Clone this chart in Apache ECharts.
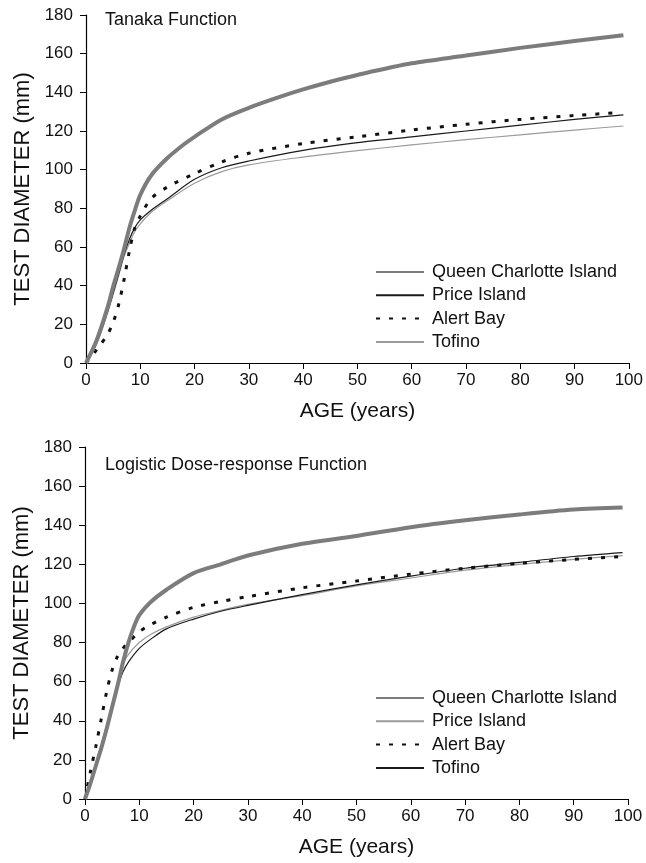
<!DOCTYPE html>
<html>
<head>
<meta charset="utf-8">
<script src="https://cdn.jsdelivr.net/npm/echarts@6/dist/echarts.min.js"></script>
<style>
html,body{margin:0;padding:0;background:#fff;}
#chart{width:646px;height:863px;}
</style>
</head>
<body>
<div id="chart"></div>
<script>
// ---------- Data ----------
const xTicks = [0,10,20,30,40,50,60,70,80,90,100];
const yTicks = [0,20,40,60,80,100,120,140,160,180];

// Tanaka Function (top panel)
const tanakaQCIAge   = [0,2,4,5,6,7,8,9,10,12,15,18,20,25,30,35,40,45,50,60,70,80,90,99];
const tanakaQCIVal   = [0,12,29,39.5,49,59,70,79,87,97,106,113,117,126,132,137,141.5,145.5,149,155,159,163,166.5,169.5];
const tanakaPriceAge = [0,2,4,6,7,8,9,10,12,15,20,25,30,40,50,60,70,80,90,99];
const tanakaPriceVal = [0,11,27,46,56,64,70,74,79,85,95,101,104.5,110,114,117,120,123,126,128.3];
const tanakaAlertAge = [0,2,4,5,6,7,8,9,10,12,15,20,25,30,40,50,60,70,80,90,98];
const tanakaAlertVal = [0,7,15,21,30,43,58,70,76,85,91,98,104,108.5,113.5,117,120.5,123.5,126,128,129.5];
const tanakaTofinoAge= [0,2,4,6,7,8,9,10,12,15,20,25,30,40,50,60,70,80,90,99];
const tanakaTofinoVal= [0,10,26,45,55,62,68,72,78,84,93,99,102.5,106.5,109.8,112.8,115.5,118,120.5,122.6];

// Logistic Dose-response Function (bottom panel)
const logQCIAge    = [0,1,2,3,4,5,6,7,8,9,10,12,15,20,25,30,40,50,60,70,80,90,99];
const logQCIVal    = [0,8,17,26,36,47,58,70,80,88,94,100.5,107,115.5,120,124.5,130.5,134.5,139,142.5,145.5,148,149];
const logPriceAge  = [0,1,2,3,4,5,6,7,8,10,12,15,20,25,30,40,50,60,70,80,90,99];
const logPriceVal  = [0,9,18,28,38,49,60,69,74,80,84,88,93,96.5,99.5,104,109,113,117,120,122.5,124.5];
const logAlertAge  = [0,1,2,3,4,5,6,7,8,10,12,15,20,25,30,40,50,60,70,80,90,99];
const logAlertVal  = [0,14,27,41,55,66,73,77,80,85.5,89,93,98,101,103.5,108,111.5,115,118,120.5,122.5,124];
const logTofinoAge = [0,1,2,3,4,5,6,7,8,10,12,15,20,25,30,40,50,60,70,80,90,99];
const logTofinoVal = [0,9,18,27,37,47,57,65,70,77,81.5,87,92,96,99,104.5,109.5,114,118,121,124,126];

const names = ['Queen Charlotte Island','Price Island','Alert Bay','Tofino'];

function pairs(a, v){ return a.map((x,i)=>[x, v[i]]); }

// ---------- Styles ----------
const FONT = 'Liberation Sans, Arial, Helvetica, sans-serif';
const sQCI   = {color:'#7c7c7c', width:4, type:'solid'};
const sBlack = {color:'#1a1a1a', width:1.2, type:'solid'};
const sGray  = {color:'#9a9a9a', width:1.2, type:'solid'};
const sDot   = {color:'#111111', width:3, type:[4,9]};

function mkSeries(name, idx, data, ls, z){
  return {
    name: name, type:'line', xAxisIndex: idx, yAxisIndex: idx,
    data: data, showSymbol:false, symbol:'none', smooth:0.3,
    lineStyle: ls, itemStyle:{color: ls.color}, z: z, silent:true, animation:false
  };
}

function xAxisCfg(idx){
  return {
    gridIndex: idx, type:'value', min:0, max:100, interval:10,
    name:'AGE (years)', nameLocation:'middle', nameGap:38,
    nameTextStyle:{fontFamily:FONT, fontSize:21, color:'#111'},
    axisLine:{show:true, lineStyle:{color:'#000', width:1.2}},
    axisTick:{show:true, length:6, lineStyle:{color:'#000'}},
    axisLabel:{fontFamily:FONT, fontSize:17, color:'#111', margin:9},
    splitLine:{show:false}
  };
}
function yAxisCfg(idx){
  return {
    gridIndex: idx, type:'value', min:0, max:180, interval:20,
    name:'TEST DIAMETER (mm)', nameLocation:'middle', nameGap:52, nameRotate:90,
    nameTextStyle:{fontFamily:FONT, fontSize:22, color:'#111'},
    axisLine:{show:true, lineStyle:{color:'#000', width:1.2}},
    axisTick:{show:true, length:6, lineStyle:{color:'#000'}},
    axisLabel:{fontFamily:FONT, fontSize:17, color:'#111', margin:13},
    splitLine:{show:false}
  };
}

const SUF = ' '; // suffix to keep bottom legend styles separate
const legendCommon = {
  orient:'vertical', left:370, itemWidth:48, itemHeight:2, itemGap:3.3,
  itemStyle:{opacity:0},
  textStyle:{fontFamily:FONT, fontSize:18, color:'#111', lineHeight:20, padding:[0,0,0,3]},
  selectedMode:false
};
const option = {
  backgroundColor:'#fff',
  animation:false,
  title:[
    {text:'Tanaka Function', left:100, top:6, textStyle:{fontFamily:FONT, fontSize:18, fontWeight:'normal', color:'#111'}},
    {text:'Logistic Dose-response Function', left:100, top:451, textStyle:{fontFamily:FONT, fontSize:18, fontWeight:'normal', color:'#111'}}
  ],
  grid:[
    {left:86, top:15, width:544, height:348},
    {left:85, top:447, width:543, height:352}
  ],
  xAxis:[xAxisCfg(0), xAxisCfg(1)],
  yAxis:[yAxisCfg(0), yAxisCfg(1)],
  legend:[
    Object.assign({}, legendCommon, {data:names, top:257}),
    Object.assign({}, legendCommon, {data:names.map(n=>n+SUF), top:683, formatter:(n)=>n.trim()})
  ],
  series:[
    mkSeries(names[3], 0, pairs(tanakaTofinoAge, tanakaTofinoVal), sGray, 2),
    mkSeries(names[1], 0, pairs(tanakaPriceAge, tanakaPriceVal), sBlack, 3),
    mkSeries(names[2], 0, pairs(tanakaAlertAge, tanakaAlertVal), sDot, 4),
    mkSeries(names[0], 0, pairs(tanakaQCIAge, tanakaQCIVal), sQCI, 5),
    mkSeries(names[1]+SUF, 1, pairs(logPriceAge, logPriceVal), sGray, 2),
    mkSeries(names[3]+SUF, 1, pairs(logTofinoAge, logTofinoVal), sBlack, 3),
    mkSeries(names[2]+SUF, 1, pairs(logAlertAge, logAlertVal), sDot, 4),
    mkSeries(names[0]+SUF, 1, pairs(logQCIAge, logQCIVal), sQCI, 5)
  ]
};

const chart = echarts.init(document.getElementById('chart'), null, {renderer:'canvas'});
chart.setOption(option);
</script>
</body>
</html>
